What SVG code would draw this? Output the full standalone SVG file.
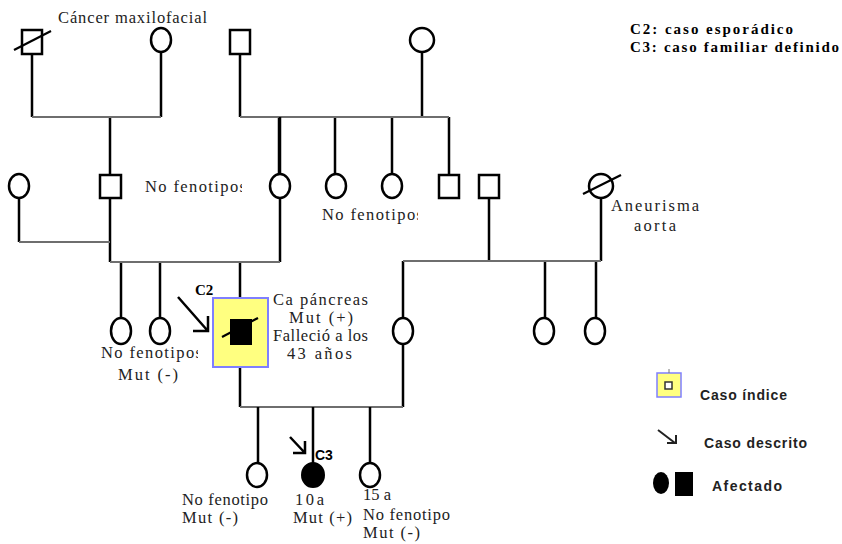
<svg xmlns="http://www.w3.org/2000/svg" width="842" height="544" viewBox="0 0 842 544">
<style>
.v{stroke:#000;stroke-width:2.5;fill:none}
.h{stroke:#6e6e6e;stroke-width:2;fill:none}
.nd{stroke:#000;stroke-width:2.5;fill:#fff}
.st{stroke:#000;stroke-width:2.2}
.t{font-family:"Liberation Serif","Times New Roman",serif;font-size:16.5px;fill:#222}
.b{font-family:"Liberation Serif","Times New Roman",serif;font-size:15px;font-weight:bold;fill:#000}
.s{font-family:"Liberation Sans",Arial,sans-serif;font-size:14px;font-weight:bold;fill:#222}
.ar{stroke:#000;stroke-width:2.5;fill:none}
</style>
<defs>
<clipPath id="c1"><rect x="0" y="170" width="242" height="40"/></clipPath>
<clipPath id="c2"><rect x="300" y="200" width="118" height="30"/></clipPath>
<clipPath id="c3"><rect x="90" y="340" width="108" height="25"/></clipPath>
</defs>
<rect width="842" height="544" fill="#fff"/>
<g id="connectors">
<path class="v" d="M32 54V117M161 52V117M110 117V175M240 54V117M422 52V117M279 117V174M335 117V174M392 117V174M449 117V175"/>
<path class="h" d="M32 117H161M240 117H449"/>
<path class="v" d="M19 198V242M110 198V262M280 117V174M280 198V262M121 262V318M160 262V318M240 262V298M240 367V407"/>
<path class="h" d="M19 242H110M110 262H280"/>
<path class="v" d="M489 198V261M601 198V261M403 261V318M403 344V407M545 261V318M596 261V318"/>
<path class="h" d="M403 261H601M240 407H403"/>
<path class="v" d="M258 407V463M313 407V463M370 407V463"/>
</g>
<g id="gen1">
<g id="n-gf1"><rect class="nd" x="22" y="30" width="20" height="24"/><line class="st" x1="14" y1="50" x2="51" y2="31"/></g>
<g id="n-gm1"><ellipse class="nd" cx="161" cy="40" rx="10" ry="12"/></g>
<g id="n-gf2"><rect class="nd" x="230" y="30" width="20" height="24"/></g>
<g id="n-gm2"><ellipse class="nd" cx="422" cy="40" rx="12" ry="12"/></g>
<text class="t" x="58" y="23" textLength="149" lengthAdjust="spacing">Cáncer maxilofacial</text>
</g>
<g id="gen2">
<g id="n-a1"><ellipse class="nd" cx="19" cy="186" rx="10" ry="12"/></g>
<g id="n-a2"><rect class="nd" x="100" y="175" width="21" height="23"/></g>
<g id="n-a3"><ellipse class="nd" cx="280" cy="186" rx="10" ry="12"/></g>
<g id="n-a4"><ellipse class="nd" cx="336" cy="186" rx="10" ry="12"/></g>
<g id="n-a5"><ellipse class="nd" cx="392" cy="186" rx="10" ry="12"/></g>
<g id="n-a6"><rect class="nd" x="439" y="175" width="20" height="23"/></g>
<g id="n-a7"><rect class="nd" x="479" y="175" width="20" height="23"/></g>
<g id="n-a8"><ellipse class="nd" cx="601" cy="186" rx="12" ry="12"/><line class="st" x1="583" y1="194" x2="621" y2="175"/></g>
<text class="t" x="145" y="192" clip-path="url(#c1)" textLength="101" lengthAdjust="spacing">No fenotipos</text>
<text class="t" x="322" y="220" clip-path="url(#c2)" textLength="101" lengthAdjust="spacing">No fenotipos</text>
<text class="t" x="611" y="211" textLength="88" lengthAdjust="spacing">Aneurisma</text>
<text class="t" x="634" y="231" textLength="42" lengthAdjust="spacing">aorta</text>
</g>
<g id="gen3">
<g id="n-b1"><ellipse class="nd" cx="121" cy="331" rx="10" ry="13"/></g>
<g id="n-b2"><ellipse class="nd" cx="160" cy="331" rx="10" ry="13"/></g>
<g id="n-c2">
<rect x="213" y="298" width="55" height="69" fill="#ffff80" stroke="#7f7fff" stroke-width="2"/>
<rect x="230" y="319" width="22" height="26" fill="#000"/>
<line class="st" x1="222" y1="337" x2="258" y2="318"/>
</g>
<g id="n-b3"><ellipse class="nd" cx="403" cy="331" rx="10" ry="13"/></g>
<g id="n-b4"><ellipse class="nd" cx="544" cy="331" rx="10" ry="13"/></g>
<g id="n-b5"><ellipse class="nd" cx="595" cy="331" rx="10" ry="13"/></g>
<path class="ar" d="M178 297L207 330M193 331H208V316"/>
<text class="b" x="195" y="295">C2</text>
<text class="t" x="273" y="305" textLength="95" lengthAdjust="spacing">Ca páncreas</text>
<text class="t" x="289" y="323" textLength="64" lengthAdjust="spacing">Mut (+)</text>
<text class="t" x="273" y="341" textLength="95" lengthAdjust="spacing">Falleció a los</text>
<text class="t" x="287" y="359" textLength="65" lengthAdjust="spacing">43 años</text>
<text class="t" x="101" y="358" clip-path="url(#c3)" textLength="101" lengthAdjust="spacing">No fenotipos</text>
<text class="t" x="118" y="380" textLength="60" lengthAdjust="spacing">Mut (-)</text>
</g>
<g id="gen4">
<g id="n-d1"><ellipse class="nd" cx="257" cy="475" rx="10" ry="12"/></g>
<g id="n-c3"><ellipse cx="313" cy="475" rx="11" ry="12" fill="#000" stroke="#000" stroke-width="2"/></g>
<g id="n-d2"><ellipse class="nd" cx="370" cy="475" rx="10" ry="12"/></g>
<path class="ar" d="M290 437L305 453M293 453H305V441"/>
<text x="315" y="460" font-family="Liberation Sans,Arial,sans-serif" font-size="14" font-weight="bold">C3</text>
<text class="t" x="182" y="505" textLength="86" lengthAdjust="spacing">No fenotipo</text>
<text class="t" x="182" y="523" textLength="56" lengthAdjust="spacing">Mut (-)</text>
<text class="t" x="295" y="505" textLength="29" lengthAdjust="spacing">10a</text>
<text class="t" x="293" y="523" textLength="59" lengthAdjust="spacing">Mut (+)</text>
<text class="t" x="363" y="500">15 a</text>
<text class="t" x="363" y="520" textLength="87" lengthAdjust="spacing">No fenotipo</text>
<text class="t" x="363" y="538" textLength="57" lengthAdjust="spacing">Mut (-)</text>
</g>
<g id="legend">
<text class="b" x="630" y="34" textLength="163" lengthAdjust="spacing">C2: caso esporádico</text>
<text class="b" x="630" y="52" textLength="209" lengthAdjust="spacing">C3: caso familiar definido</text>
<rect x="657" y="373" width="24" height="24" fill="#ffff80" stroke="#7f7fff" stroke-width="1.5"/>
<rect x="665" y="382" width="7" height="7" fill="#fff" stroke="#333" stroke-width="1.5"/>
<line x1="669" y1="369" x2="669" y2="373" stroke="#777" stroke-width="1"/>
<text class="s" x="700" y="400" textLength="87" lengthAdjust="spacing">Caso índice</text>
<path d="M658 430L675 443M667 443H676V435" stroke="#222" stroke-width="2" fill="none"/>
<text class="s" x="704" y="448" textLength="103" lengthAdjust="spacing">Caso descrito</text>
<ellipse cx="661" cy="483" rx="8" ry="11" fill="#000"/>
<rect x="675" y="472" width="18" height="24" fill="#000"/>
<text class="s" x="712" y="491" textLength="70" lengthAdjust="spacing">Afectado</text>
</g>
</svg>
